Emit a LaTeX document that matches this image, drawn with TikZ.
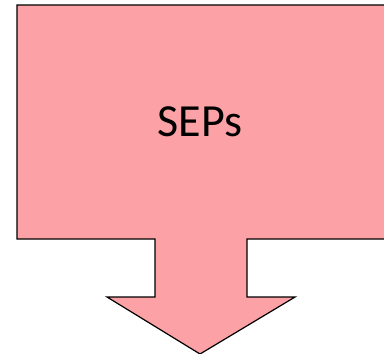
\documentclass[tikz,border=0pt]{standalone}
\usepackage{fontspec}
\setmainfont{Carlito}
\definecolor{seppink}{RGB}{252,161,166}
\begin{document}
\begin{tikzpicture}[x=1pt,y=-1pt]
\useasboundingbox (0,0) rectangle (384,354);\clip (0,0) rectangle (384,354);
\draw[fill=seppink,line width=1.2pt,line join=miter] (17,5)--(392,5)--(392,239)--(247,239)--(247,297)--(295,297)--(200,354)--(107,297)--(155,297)--(155,239)--(17,239)--cycle;
\node[font=\fontsize{46}{50}\selectfont,inner sep=0pt] (sep) at (200,122){SEPs};
\end{tikzpicture}
\end{document}
